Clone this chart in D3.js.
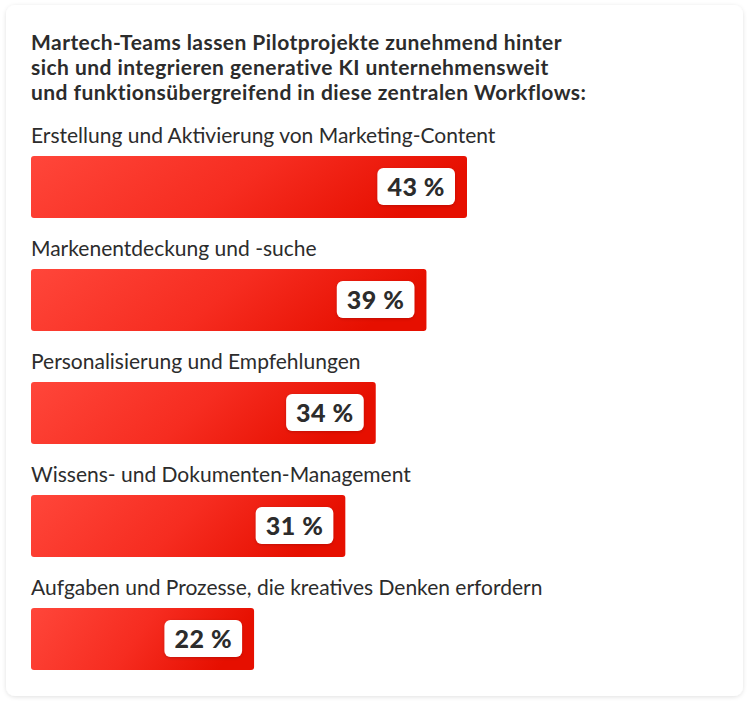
<!DOCTYPE html>
<html>
<head>
<meta charset="utf-8">
<script src="https://cdn.jsdelivr.net/npm/d3@7"></script>
<style>
  html, body { margin: 0; padding: 0; background: #fff; }
  svg { display: block; font-family: Lato, "Open Sans", sans-serif; }
</style>
</head>
<body>
<div id="chart"></div>
<script>
// --------------------------------------
//  Data
// --------------------------------------

const titleLines = [
  "Martech-Teams lassen Pilotprojekte zunehmend hinter",
  "sich und integrieren generative KI unternehmensweit",
  "und funktionsübergreifend in diese zentralen Workflows:"
];

const categories = [
  "Erstellung und Aktivierung von Marketing-Content",
  "Markenentdeckung und -suche",
  "Personalisierung und Empfehlungen",
  "Wissens- und Dokumenten-Management",
  "Aufgaben und Prozesse, die kreatives Denken erfordern"
];

const values = [43, 39, 34, 31, 22];

// --------------------------------------
//  Margin and canvas
// --------------------------------------

const width = 750;
const height = 704;
const margin = {left: 31, top: 156};
const barHeight = 62;
const step = 113;

const svg = d3.select("#chart")
  .append("svg")
    .attr("width", width)
    .attr("height", height)
    .attr("viewBox", `0 0 ${width} ${height}`);

const defs = svg.append("defs");

const shadow = defs.append("filter")
    .attr("id", "cardShadow")
    .attr("x", -0.05).attr("y", -0.05)
    .attr("width", 1.1).attr("height", 1.1);
shadow.append("feDropShadow")
    .attr("dx", 0).attr("dy", 1)
    .attr("stdDeviation", 2)
    .attr("flood-color", "#000")
    .attr("flood-opacity", 0.12);

const boxShadow = defs.append("filter")
    .attr("id", "boxShadow")
    .attr("x", -0.2).attr("y", -0.3)
    .attr("width", 1.4).attr("height", 1.6);
boxShadow.append("feDropShadow")
    .attr("dx", 0).attr("dy", 1)
    .attr("stdDeviation", 1.5)
    .attr("flood-color", "#600")
    .attr("flood-opacity", 0.3);

const grad = defs.append("linearGradient")
    .attr("id", "barGrad")
    .attr("x1", "0%").attr("y1", "0%")
    .attr("x2", "100%").attr("y2", "20%");
grad.append("stop").attr("offset", "0%").attr("stop-color", "#ff463a");
grad.append("stop").attr("offset", "55%").attr("stop-color", "#f62c20");
grad.append("stop").attr("offset", "100%").attr("stop-color", "#e60f00");

// card
svg.append("rect")
    .attr("x", 6).attr("y", 5)
    .attr("width", 737).attr("height", 691)
    .attr("rx", 9)
    .attr("fill", "#fff")
    .attr("filter", "url(#cardShadow)");

// --------------------------------------
//  Title
// --------------------------------------

svg.append("g")
  .selectAll("text")
  .data(titleLines)
  .join("text")
    .attr("x", margin.left)
    .attr("y", (d, i) => 50 + i * 25)
    .attr("fill", "#2c2c2c")
    .attr("font-size", 21)
    .attr("font-weight", 700)
    .attr("letter-spacing", 0.45)
    .text(d => d);

// --------------------------------------
//  Scales
// --------------------------------------

const x = d3.scaleLinear()
    .domain([0, 43])
    .range([0, 436]);

const y = d3.scaleBand()
    .domain(categories)
    .range([margin.top, margin.top + step * categories.length]);

// --------------------------------------
//  Bars
// --------------------------------------

const rows = svg.append("g")
  .selectAll("g")
  .data(categories.map((c, i) => ({cat: c, value: values[i]})))
  .join("g")
    .attr("transform", d => `translate(${margin.left}, ${y(d.cat)})`);

rows.append("text")
    .attr("x", 0)
    .attr("y", -13)
    .attr("fill", "#2c2c2c")
    .attr("font-size", 21)
    .text(d => d.cat);

rows.append("rect")
    .attr("x", 0)
    .attr("y", 0)
    .attr("width", d => x(d.value))
    .attr("height", barHeight)
    .attr("rx", 3)
    .attr("fill", "url(#barGrad)");

const labels = rows.append("g");

labels.append("text")
    .attr("text-anchor", "end")
    .attr("x", d => x(d.value) - 22)
    .attr("y", barHeight / 2 + 9)
    .attr("fill", "#2c2c2c")
    .attr("font-size", 25)
    .attr("font-weight", 900)
    .attr("letter-spacing", 0.5)
    .text(d => `${d.value} %`);

labels.each(function() {
  const g = d3.select(this);
  const bb = g.select("text").node().getBBox();
  g.insert("rect", "text")
      .attr("x", bb.x - 10)
      .attr("y", barHeight / 2 - 19)
      .attr("width", bb.width + 20)
      .attr("height", 37)
      .attr("rx", 6)
      .attr("fill", "#fff")
      .attr("filter", "url(#boxShadow)");
});
</script>
</body>
</html>
